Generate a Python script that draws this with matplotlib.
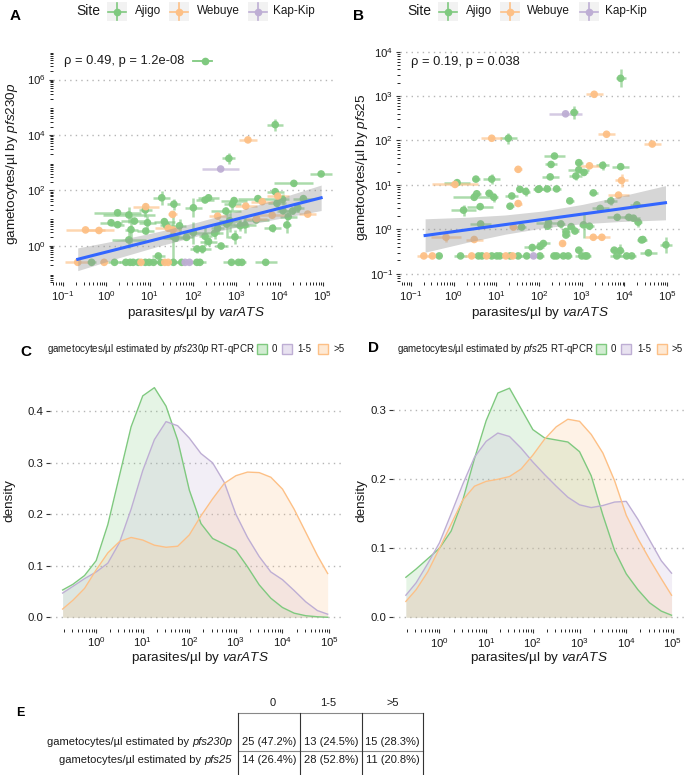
import numpy as np
import matplotlib
matplotlib.use('Agg')
import matplotlib.pyplot as plt
from matplotlib.lines import Line2D
from matplotlib.patches import Rectangle
from matplotlib.ticker import FixedLocator, NullLocator, FuncFormatter
from matplotlib import font_manager

plt.rcParams['font.family'] = ['Liberation Sans', 'DejaVu Sans']
plt.rcParams['mathtext.fontset'] = 'custom'
plt.rcParams['mathtext.rm'] = 'Liberation Sans'
plt.rcParams['mathtext.it'] = 'Liberation Sans:italic'
plt.rcParams['mathtext.bf'] = 'Liberation Sans:bold'

W, H = 685, 775

# ---------------- DATA ----------------
sites = ['Ajigo', 'Webuye', 'Kap-Kip']
site_colors = ['#7FC97F', '#FDC086', '#BEAED4']
site_codes = {'Aj': 'Ajigo', 'We': 'Webuye', 'KK': 'Kap-Kip'}

# Panel A: log10 parasites/ul (varATS), log10 gametocytes/ul (pfs230p),
# error half-widths in decades, site
a_lx = [2.83, 3.90, 3.27, 2.64, 4.96, 4.33, 3.90, 3.96, 4.07, 4.55, 3.50, 3.60, 3.94, 2.95, 2.91,
        2.36, 2.28, 1.28, 0.91, 0.90, 1.56, 1.53, 2.01, 0.26, 0.52, 0.65, 0.11, 0.26, 0.95, 0.91,
        0.57, 0.52, -0.48, -0.17, 1.34, 1.38, 1.43, 1.54, 1.69, 1.60, 1.85, 1.54, 1.20, 2.57, 2.76,
        2.78, 2.57, 2.01, 2.28, 2.36, 2.22, 2.09, 2.65, 2.97, 3.20, 3.22, 3.09, 3.46, 3.47, 3.84,
        4.17, 4.20, 3.83, 4.65, 4.30, 4.42, 4.08, 2.85, 2.50,
        -0.66, -0.34, -0.05, 0.19, 0.45, 0.55, 0.62, 0.74, 0.80, 0.90, 0.99, 1.09, 1.26, 1.35,
        1.43, 1.55, 1.74, 1.82, 1.92, 2.09, 2.16, 2.89, 3.05, 3.13, 3.68]
a_ly = [3.15, 4.37, 3.82, 2.77, 2.59, 2.25, 1.95, 1.79, 1.67, 1.70, 1.70, 1.59, 1.53, 1.63, 1.50,
        1.73, 1.65, 1.73, 1.41, 1.29, 1.50, 1.13, 1.37, 1.19, 1.11, 0.89, 0.83, 0.76, 0.83, 0.53,
        0.58, 0.21, 0.57, 0.55, 0.87, 0.75, 0.63, 0.57, 0.72, 0.27, 0.30, 0.34, -0.37, 1.07, 1.25,
        0.78, 0.63, 0.47, 0.34, 0.15, -0.12, -0.12, -0.01, 0.32, 0.75, 1.43, 0.72, 0.93, 0.98, 0.63,
        0.75, 1.05, 1.10, 1.14, 1.25, 1.37, 1.26, 0.90, 0.45,
        -0.60, -0.60, -0.60, -0.60, -0.60, -0.60, -0.60, -0.60, -0.60, -0.60, -0.60, -0.60, -0.60, -0.60,
        -0.60, -0.60, -0.60, -0.60, -0.60, -0.60, -0.60, -0.60, -0.60, -0.60, -0.60]
a_xe = [0.15, 0.18, 0.20, 0.42, 0.25, 0.45, 0.20, 0.25, 0.15, 0.25, 0.45, 0.25, 0.20, 0.30, 0.20,
        0.25, 0.20, 0.20, 0.30, 0.15, 0.15, 0.10, 0.20, 0.55, 0.60, 0.30, 0.25, 0.15, 0.20, 0.20,
        0.15, 0.40, 0.45, 0.35, 0.25, 0.15, 0.30, 0.15, 0.15, 0.30, 0.15, 0.15, 0.15, 0.20, 0.35,
        0.20, 0.15, 0.25, 0.15, 0.20, 0.20, 0.15, 0.15, 0.15, 0.25, 0.25, 0.20, 0.30, 0.25, 0.20,
        0.10, 0.20, 0.35, 0.20, 0.15, 0.15, 0.15, 0.25, 0.20,
        0.30, 0.10, 0.10, 0.15, 0.15, 0.10, 0.20, 0.10, 0.10, 0.10, 0.10, 0.15, 0.15, 0.15,
        0.10, 0.10, 0.20, 0.15, 0.15, 0.15, 0.15, 0.20, 0.10, 0.10, 0.25]
a_ye = [0.20, 0.22, 0.08, 0.05, 0.05, 0.08, 0.15, 0.10, 0.20, 0.10, 0.10, 0.08, 0.15, 0.10, 0.20,
        0.08, 0.08, 0.25, 0.05, 0.25, 0.20, 0.10, 0.35, 0.08, 0.30, 0.10, 0.10, 0.10, 0.25, 0.10,
        0.50, 0.30, 0.05, 0.05, 0.10, 0.15, 0.05, 0.05, 0.25, 0.10, 0.10, 0.90, 0.08, 0.10, 0.15,
        0.50, 0.20, 0.40, 0.35, 0.15, 0.15, 0.15, 0.10, 0.25, 0.30, 0.08, 0.20, 0.10, 0.05, 0.15,
        0.30, 0.10, 0.05, 0.05, 0.10, 0.15, 0.10, 0.40, 0.20,
        0.02, 0.02, 0.02, 0.02, 0.02, 0.02, 0.02, 0.02, 0.02, 0.02, 0.02, 0.02, 0.02, 0.02,
        0.02, 0.02, 0.02, 0.02, 0.02, 0.02, 0.02, 0.02, 0.02, 0.02, 0.02]
a_site = ['Aj', 'Aj', 'We', 'KK', 'Aj', 'Aj', 'Aj', 'We', 'Aj', 'Aj', 'Aj', 'We', 'Aj', 'Aj', 'Aj',
          'Aj', 'Aj', 'Aj', 'We', 'Aj', 'Aj', 'We', 'Aj', 'Aj', 'Aj', 'Aj', 'Aj', 'Aj', 'Aj', 'Aj',
          'Aj', 'Aj', 'We', 'We', 'Aj', 'Aj', 'We', 'We', 'Aj', 'Aj', 'Aj', 'Aj', 'Aj', 'We', 'Aj',
          'Aj', 'Aj', 'Aj', 'Aj', 'Aj', 'Aj', 'Aj', 'Aj', 'Aj', 'Aj', 'We', 'Aj', 'Aj', 'We', 'Aj',
          'Aj', 'Aj', 'We', 'We', 'Aj', 'Aj', 'Aj', 'Aj', 'Aj',
          'We', 'Aj', 'We', 'Aj', 'Aj', 'Aj', 'Aj', 'Aj', 'We', 'Aj', 'Aj', 'Aj', 'Aj', 'We',
          'We', 'Aj', 'Aj', 'KK', 'KK', 'Aj', 'Aj', 'Aj', 'Aj', 'Aj', 'Aj']
# regression line (log-log lm) and 95% CI half-width
a_fit_lx = [-0.66, 0.30, 1.20, 2.10, 3.00, 3.90, 4.96]
a_fit_ly = [-0.49, -0.11, 0.245, 0.60, 0.955, 1.31, 1.73]
a_fit_hw = [0.41, 0.32, 0.265, 0.25, 0.285, 0.355, 0.46]

# Panel B: log10 parasites/ul (varATS), log10 gametocytes/ul (pfs25)
b_lx = [3.91, 3.29, 2.62, 2.82, 0.89, 1.28, 3.58, 4.65, 2.36, 2.28, 2.93, 3.18, 3.49, 3.91, 1.51,
        2.26, 2.93, 3.05, 2.86, 3.93, 3.86, 2.00, 2.19, 2.41, 2.72, 3.27, 3.68, 3.43, 4.29, 2.22,
        2.51, 2.75, 3.04, 3.18, 3.83, 4.10, 4.21, 4.32, 2.63, 2.63, 3.47, 2.55, 2.10, 2.02, 4.40,
        4.97, 4.56, 2.93, 3.90, 3.76, 2.84, 2.20, 0.03, 0.08, 0.52, 0.89, 0.83, 0.48, 0.54, 0.94,
        1.36, 1.55, 1.69, 1.98, 1.51, 1.32, 0.23, 0.62, 0.63, 1.40, 1.59, -0.18, 0.48, 1.84, 3.27,
        4.43,
        -0.70, -0.50, -0.34, 0.16, 0.42, 0.58, 0.66, 0.77, 0.89, 1.01, 1.08, 1.22, 1.32, 1.38,
        1.51, 1.71, 1.87, 2.02, 2.35, 2.41, 2.57, 2.68, 3.00, 3.08, 3.12, 3.82, 4.05, 4.17]
b_ly = [3.40, 3.04, 2.60, 2.63, 2.05, 2.05, 2.14, 1.92, 1.65, 1.46, 1.50, 1.43, 1.44, 1.41, 1.35,
        1.18, 1.34, 1.28, 1.20, 1.10, 0.77, 0.91, 0.91, 0.91, 0.64, 0.82, 0.64, 0.47, 0.55, 0.15,
        0.12, 0.06, 0.10, 0.07, 0.27, 0.27, 0.25, 0.16, -0.05, -0.13, -0.18, -0.32, -0.32, -0.39, -0.24,
        -0.35, -0.53, -0.47, -0.48, -0.47, -0.04, 0.07, 1.01, 1.05, 1.13, 1.13, 0.81, 0.72, 0.80, 0.72,
        0.75, 0.90, 0.85, 0.90, 0.58, 0.52, 0.43, 0.51, 0.12, 0.05, 0.05, -0.18, -0.23, -0.41, -0.18,
        -0.23,
        -0.60, -0.60, -0.60, -0.60, -0.60, -0.60, -0.60, -0.60, -0.60, -0.60, -0.60, -0.60, -0.60, -0.60,
        -0.60, -0.60, -0.60, -0.60, -0.60, -0.60, -0.60, -0.60, -0.60, -0.60, -0.60, -0.60, -0.60, -0.60]
b_xe = [0.12, 0.20, 0.38, 0.10, 0.25, 0.20, 0.20, 0.20, 0.25, 0.15, 0.10, 0.30, 0.15, 0.20, 0.10,
        0.20, 0.25, 0.10, 0.15, 0.15, 0.25, 0.15, 0.10, 0.10, 0.10, 0.10, 0.15, 0.20, 0.15, 0.30,
        0.10, 0.10, 0.10, 0.10, 0.25, 0.10, 0.15, 0.10, 0.10, 0.10, 0.20, 0.05, 0.15, 0.10, 0.10,
        0.15, 0.20, 0.10, 0.10, 0.10, 0.10, 0.10, 0.55, 0.30, 0.10, 0.20, 0.10, 0.50, 0.10, 0.10,
        0.15, 0.10, 0.10, 0.10, 0.10, 0.10, 0.30, 0.30, 0.25, 0.10, 0.10, 0.35, 0.20, 0.20, 0.20,
        0.10,
        0.15, 0.10, 0.05, 0.15, 0.15, 0.10, 0.10, 0.15, 0.10, 0.10, 0.10, 0.15, 0.10, 0.10,
        0.10, 0.15, 0.15, 0.10, 0.10, 0.10, 0.10, 0.10, 0.15, 0.10, 0.10, 0.15, 0.10, 0.10]
b_ye = [0.20, 0.05, 0.05, 0.15, 0.05, 0.12, 0.05, 0.05, 0.05, 0.05, 0.05, 0.05, 0.10, 0.05, 0.05,
        0.05, 0.05, 0.05, 0.10, 0.15, 0.05, 0.05, 0.05, 0.05, 0.05, 0.05, 0.10, 0.05, 0.05, 0.05,
        0.10, 0.05, 0.30, 0.05, 0.05, 0.05, 0.05, 0.10, 0.05, 0.05, 0.05, 0.05, 0.05, 0.05, 0.05,
        0.18, 0.05, 0.05, 0.15, 0.05, 0.05, 0.05, 0.05, 0.05, 0.05, 0.12, 0.05, 0.05, 0.05, 0.10,
        0.05, 0.05, 0.10, 0.05, 0.05, 0.05, 0.12, 0.05, 0.05, 0.05, 0.05, 0.10, 0.05, 0.08, 0.05,
        0.05,
        0.02, 0.02, 0.02, 0.02, 0.02, 0.02, 0.02, 0.02, 0.02, 0.02, 0.02, 0.02, 0.02, 0.02,
        0.02, 0.02, 0.02, 0.02, 0.02, 0.02, 0.02, 0.02, 0.02, 0.02, 0.02, 0.02, 0.02, 0.02]
b_site = ['Aj', 'We', 'KK', 'Aj', 'We', 'Aj', 'We', 'We', 'Aj', 'Aj', 'Aj', 'We', 'Aj', 'Aj', 'We',
          'Aj', 'Aj', 'Aj', 'Aj', 'We', 'We', 'Aj', 'Aj', 'Aj', 'Aj', 'Aj', 'Aj', 'Aj', 'Aj', 'Aj',
          'Aj', 'Aj', 'Aj', 'Aj', 'Aj', 'Aj', 'Aj', 'Aj', 'Aj', 'Aj', 'We', 'We', 'Aj', 'Aj', 'Aj',
          'Aj', 'Aj', 'Aj', 'Aj', 'Aj', 'Aj', 'Aj', 'We', 'Aj', 'Aj', 'Aj', 'Aj', 'Aj', 'Aj', 'Aj',
          'Aj', 'Aj', 'Aj', 'Aj', 'We', 'Aj', 'Aj', 'Aj', 'Aj', 'We', 'Aj', 'We', 'We', 'Aj', 'We',
          'Aj',
          'We', 'We', 'Aj', 'Aj', 'We', 'Aj', 'Aj', 'We', 'Aj', 'Aj', 'Aj', 'We', 'Aj', 'We',
          'Aj', 'Aj', 'KK', 'Aj', 'Aj', 'Aj', 'Aj', 'Aj', 'Aj', 'Aj', 'Aj', 'Aj', 'Aj', 'Aj']
b_fit_lx = [-0.67, 0.30, 1.20, 2.10, 3.00, 3.90, 4.96]
b_fit_ly = [-0.14, -0.013, 0.105, 0.223, 0.341, 0.459, 0.598]
b_fit_hw = [0.376, 0.284, 0.217, 0.19, 0.217, 0.284, 0.385]

a_label = 'ρ = 0.49, p = 1.2e-08'
b_label = 'ρ = 0.19, p = 0.038'

# Panels C/D: density curves of log10 parasites/ul by gametocyte group
dens_groups = ['0', '1-5', '>5']
dens_colors = ['#7FC97F', '#BEAED4', '#FDC086']
dens_lx = [-0.72, -0.5, -0.25, 0.0, 0.25, 0.5, 0.75, 1.0, 1.25, 1.5, 1.75, 2.0, 2.25, 2.5,
           2.75, 3.0, 3.25, 3.5, 3.75, 4.0, 4.25, 4.5, 4.75, 4.97]
c_dens_0 = [0.053, 0.064, 0.081, 0.11, 0.18, 0.275, 0.37, 0.43, 0.446, 0.41, 0.344, 0.247,
            0.182, 0.153, 0.142, 0.13, 0.098, 0.063, 0.037, 0.019, 0.008, 0.003, 0.001, 0.0]
c_dens_15 = [0.047, 0.06, 0.075, 0.088, 0.105, 0.145, 0.21, 0.285, 0.345, 0.38, 0.372, 0.348,
             0.318, 0.30, 0.262, 0.20, 0.155, 0.118, 0.088, 0.073, 0.052, 0.03, 0.013, 0.006]
c_dens_5 = [0.016, 0.033, 0.056, 0.092, 0.125, 0.147, 0.155, 0.15, 0.14, 0.136, 0.138, 0.16,
            0.197, 0.23, 0.26, 0.275, 0.282, 0.281, 0.272, 0.249, 0.21, 0.165, 0.12, 0.085]
d_dens_0 = [0.058, 0.07, 0.085, 0.10, 0.125, 0.17, 0.23, 0.285, 0.325, 0.332, 0.302, 0.272,
            0.26, 0.257, 0.254, 0.24, 0.205, 0.148, 0.097, 0.063, 0.04, 0.021, 0.009, 0.003]
d_dens_15 = [0.032, 0.05, 0.078, 0.108, 0.15, 0.193, 0.232, 0.255, 0.267, 0.262, 0.245, 0.225,
             0.207, 0.19, 0.174, 0.163, 0.159, 0.162, 0.167, 0.168, 0.142, 0.112, 0.082, 0.064]
d_dens_5 = [0.023, 0.04, 0.066, 0.10, 0.135, 0.17, 0.19, 0.197, 0.20, 0.204, 0.215, 0.235,
            0.258, 0.276, 0.287, 0.284, 0.265, 0.238, 0.198, 0.148, 0.114, 0.084, 0.056, 0.032]

# Panel E table
table_cols = ['0', '1-5', '>5']
table_rows = ['gametocytes/µl estimated by ', 'gametocytes/µl estimated by ']
table_row_genes = ['pfs230p', 'pfs25']
table_cells = [['25 (47.2%)', '13 (24.5%)', '15 (28.3%)'],
               ['14 (26.4%)', '28 (52.8%)', '11 (20.8%)']]

# ---------------- FIGURE ----------------
fig = plt.figure(figsize=(W / 100, H / 100), dpi=100)
TXT = '#1a1a1a'

_names = {f.name for f in font_manager.fontManager.ttflist}
TAB_FONT = 'Liberation Sans Narrow' if 'Liberation Sans Narrow' in _names else 'Liberation Sans'
TAB_SIZE = 9.5 if TAB_FONT == 'Liberation Sans Narrow' else 8.0


def fx(x):
    return x / W


def fy(y):
    return 1 - y / H


def add_ax(l, r, t, b):
    return fig.add_axes([fx(l), fy(b), (r - l) / W, (b - t) / H])


def ftext(x, y, s, **kw):
    kw.setdefault('color', TXT)
    return fig.text(fx(x), fy(y), s, **kw)


def pow_fmt(v, p):
    return r'$10^{%d}$' % int(round(np.log10(v)))


def style_ax(ax):
    for sp in ax.spines.values():
        sp.set_visible(False)
    ax.yaxis.grid(True, linestyle=(0, (1, 3)), color='#b5b5b5', lw=1.0)
    ax.xaxis.grid(False)
    ax.set_axisbelow(True)
    ax.tick_params(length=3, width=0.8, color='#333333', labelsize=8.2, labelcolor=TXT, pad=2)
    ax.xaxis.set_minor_locator(NullLocator())
    ax.yaxis.set_minor_locator(NullLocator())


def scatter_panel(ax, lx, ly, xe, ye, site, fit_lx, fit_ly, fit_hw):
    lx = np.array(lx); ly = np.array(ly); xe = np.array(xe); ye = np.array(ye)
    site = np.array([site_codes[s] for s in site])
    for name, col in zip(sites, site_colors):
        m = site == name
        x = 10 ** lx[m]; y = 10 ** ly[m]
        xerr = [x - 10 ** (lx[m] - xe[m]), 10 ** (lx[m] + xe[m]) - x]
        yerr = [y - 10 ** (ly[m] - ye[m]), 10 ** (ly[m] + ye[m]) - y]
        ax.errorbar(x, y, xerr=xerr, yerr=yerr, fmt='none', ecolor=col, elinewidth=1.8,
                    alpha=0.65, capsize=0, zorder=3)
    for name, col in zip(sites, site_colors):
        m = site == name
        ax.scatter(10 ** lx[m], 10 ** ly[m], s=30, color=col, edgecolors='none', alpha=0.95, zorder=4)
    fl = np.array(fit_lx); fv = np.array(fit_ly); fh = np.array(fit_hw)
    ax.fill_between(10 ** fl, 10 ** (fv - fh), 10 ** (fv + fh), color='#999999',
                    alpha=0.4, lw=0, zorder=5)
    ax.plot(10 ** fl, 10 ** fv, color='#3366FF', lw=2.2, zorder=6)


# ---- Panel A ----
axA = add_ax(53, 335, 50, 282)
style_ax(axA)
axA.set_xscale('log'); axA.set_yscale('log')
scatter_panel(axA, a_lx, a_ly, a_xe, a_ye, a_site, a_fit_lx, a_fit_ly, a_fit_hw)
axA.set_xlim(10 ** -1.231, 10 ** 5.28)
axA.set_ylim(10 ** -1.31, 10 ** 7.065)
axA.xaxis.set_major_locator(FixedLocator([10.0 ** k for k in range(-1, 6)]))
axA.yaxis.set_major_locator(FixedLocator([10.0 ** k for k in (0, 2, 4, 6)]))
axA.xaxis.set_major_formatter(FuncFormatter(pow_fmt))
axA.yaxis.set_major_formatter(FuncFormatter(pow_fmt))

# ---- Panel B ----
axB = add_ax(400, 680, 45, 282)
style_ax(axB)
axB.set_xscale('log'); axB.set_yscale('log')
scatter_panel(axB, b_lx, b_ly, b_xe, b_ye, b_site, b_fit_lx, b_fit_ly, b_fit_hw)
axB.set_xlim(10 ** -1.258, 10 ** 5.30)
axB.set_ylim(10 ** -1.187, 10 ** 4.15)
axB.xaxis.set_major_locator(FixedLocator([10.0 ** k for k in range(-1, 6)]))
axB.yaxis.set_major_locator(FixedLocator([10.0 ** k for k in range(-1, 5)]))
axB.xaxis.set_major_formatter(FuncFormatter(pow_fmt))
axB.yaxis.set_major_formatter(FuncFormatter(pow_fmt))


# ---- Panels C, D ----
def density_panel(ax, curves, ylim, yticks):
    style_ax(ax)
    ax.set_xscale('log')
    x = 10 ** np.array(dens_lx)
    for ys, col in zip(curves, dens_colors):
        ax.fill_between(x, ys, 0, color=col, alpha=0.2, lw=0, zorder=3)
        ax.plot(x, ys, color=col, lw=1.0, zorder=4)
    ax.set_xlim(10 ** -0.985, 10 ** 5.25)
    ax.set_ylim(*ylim)
    ax.xaxis.set_major_locator(FixedLocator([10.0 ** k for k in range(0, 6)]))
    ax.xaxis.set_major_formatter(FuncFormatter(pow_fmt))
    ax.yaxis.set_major_locator(FixedLocator(yticks))
    ax.yaxis.set_major_formatter(FuncFormatter(lambda v, p: '%.1f' % v))


axC = add_ax(50.3, 340.7, 375.3, 628.6)
density_panel(axC, [c_dens_0, c_dens_15, c_dens_5], (-0.022, 0.47), [0.0, 0.1, 0.2, 0.3, 0.4])
axD = add_ax(393.5, 684.6, 374.4, 628.9)
density_panel(axD, [d_dens_0, d_dens_15, d_dens_5], (-0.0168, 0.352), [0.0, 0.1, 0.2, 0.3])

# ---- axis titles ----
xlab = r'parasites/µl by $\it{varATS}$'
ftext(196, 313, xlab, fontsize=9.7, ha='center', va='center')
ftext(540, 313, xlab, fontsize=9.7, ha='center', va='center')
ftext(200, 658, xlab, fontsize=9.7, ha='center', va='center')
ftext(539, 658, xlab, fontsize=9.7, ha='center', va='center')
ftext(12, 164, r'gametocytes/µl by $\it{pfs230p}$', fontsize=9.7, ha='center', va='center', rotation=90)
ftext(362, 167, r'gametocytes/µl by $\it{pfs25}$', fontsize=9.7, ha='center', va='center', rotation=90)
ftext(9, 501, 'density', fontsize=9.7, ha='center', va='center', rotation=90)
ftext(361, 501, 'density', fontsize=9.7, ha='center', va='center', rotation=90)

# ---- correlation labels ----
ftext(64, 61, a_label, fontsize=9.3, ha='left', va='center')
fig.add_artist(Line2D([fx(193), fx(212)], [fy(61), fy(61)], color=site_colors[0], lw=1.3))
fig.add_artist(Line2D([fx(205)], [fy(61)], marker='o', ms=4.5, color=site_colors[0], lw=0))
ftext(411, 62, b_label, fontsize=9.3, ha='left', va='center')

# ---- panel letters ----
for lab, x, y, fs in [('A', 15.5, 16.5, 11), ('B', 358.5, 16.5, 11), ('C', 25.5, 351.5, 11),
                      ('D', 373.5, 347.5, 11), ('E', 20, 713.5, 9)]:
    ftext(x, y, lab, fontsize=fs, fontweight='bold', ha='center', va='center', color='black')


# ---- Site legends ----
def site_legend(title_x, keys_x, labels_x):
    ftext(title_x, 11, 'Site', fontsize=10, ha='left', va='center')
    for kx, lxp, name, col in zip(keys_x, labels_x, sites, site_colors):
        fig.add_artist(Rectangle((fx(kx), fy(21)), 20 / W, 19 / H, facecolor='#F2F2F2',
                                 edgecolor='none'))
        cx = kx + 10
        fig.add_artist(Line2D([fx(kx + 1), fx(kx + 19)], [fy(11.5), fy(11.5)], color=col, lw=1.2))
        fig.add_artist(Line2D([fx(cx), fx(cx)], [fy(3), fy(20)], color=col, lw=1.2))
        fig.add_artist(Line2D([fx(cx)], [fy(11.5)], marker='o', ms=4.5, color=col, lw=0))
        ftext(lxp, 11, name, fontsize=8.5, ha='left', va='center')


site_legend(76, [107, 169, 248], [135, 197, 273])
site_legend(407, [438, 500, 579], [466, 527, 605])


# ---- density legends ----
def dens_legend(x0, title, keys_x, labels_x):
    ftext(x0, 349, title, fontsize=7, ha='left', va='center')
    for kx, lxp, g, col in zip(keys_x, labels_x, dens_groups, dens_colors):
        fig.add_artist(Rectangle((fx(kx), fy(354)), 10 / W, 10 / H, facecolor=col, alpha=0.35,
                                 edgecolor='none'))
        fig.add_artist(Rectangle((fx(kx), fy(354)), 10 / W, 10 / H, facecolor='none',
                                 edgecolor=col, lw=1.0))
        ftext(lxp, 349, g, fontsize=7, ha='left', va='center')


dens_legend(47, r'gametocytes/µl estimated by $\it{pfs230p}$ RT-qPCR', [257, 282, 318], [272, 297, 333])
dens_legend(397, r'gametocytes/µl estimated by $\it{pfs25}$ RT-qPCR', [596, 621, 657], [611, 637, 671])

# ---- Panel E table ----
col_edges = [238, 300, 362, 423]
head_x = [273, 328, 393]
row_y = [742, 760]
tkw = dict(fontsize=TAB_SIZE, family=[TAB_FONT, 'Liberation Sans'], va='center')
for j, c in enumerate(table_cols):
    ftext(head_x[j], 703, c, ha='center', **tkw)
fig.canvas.draw()
rend = fig.canvas.get_renderer()
for i, r in enumerate(table_rows):
    gene = ftext(232, row_y[i], table_row_genes[i], ha='right', style='italic', **tkw)
    gw = gene.get_window_extent(renderer=rend).width
    ftext(232 - gw, row_y[i], r, ha='right', **tkw)
    for j in range(3):
        ftext((col_edges[j] + col_edges[j + 1]) / 2, row_y[i], table_cells[i][j], ha='center', **tkw)
fig.add_artist(Line2D([fx(238), fx(423)], [fy(713), fy(713)], color='#888888', lw=0.8))
fig.add_artist(Line2D([fx(238), fx(423)], [fy(751), fy(751)], color='#888888', lw=0.8))
for xe_ in col_edges:
    fig.add_artist(Line2D([fx(xe_), fx(xe_)], [fy(713), fy(775)], color='#333333', lw=0.8))

fig.savefig('out.png', dpi=100)
